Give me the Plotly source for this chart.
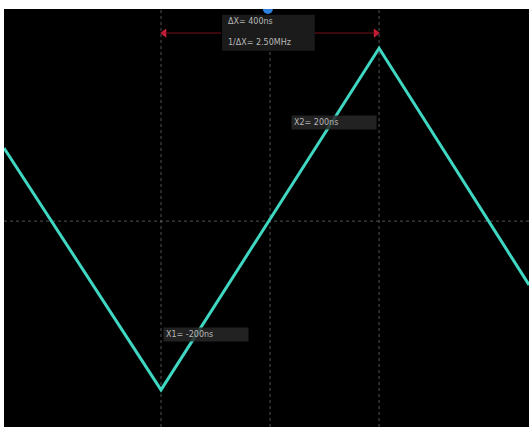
import plotly.graph_objects as go

# Data (time in ns, voltage in div units)
time_ns = [-488, -200, 200, 475]
volts = [1.40, -3.23, 3.31, -1.22]
cursor_times = [-200, 200]
label_dx = "ΔX= 400ns"
label_inv = "1/ΔX= 2.50MHz"
label_x1 = "X1= -200ns"
label_x2 = "X2= 200ns"

X_RANGE = [-488, 475]
Y_RANGE = [-3.94, 4.06]

fig = go.Figure()

# Cursor / centre lines
for t in cursor_times + [0]:
    fig.add_shape(type="line", x0=t, x1=t, y0=Y_RANGE[0], y1=Y_RANGE[1],
                  line=dict(color="rgba(150,150,150,0.55)", width=1, dash="dot"), layer="below")
fig.add_shape(type="line", x0=X_RANGE[0], x1=X_RANGE[1], y0=0, y1=0,
              line=dict(color="rgba(150,150,150,0.55)", width=1, dash="dot"), layer="below")

# Red delta line with arrows
fig.add_shape(type="line", x0=cursor_times[0], x1=-90, y0=3.6, y1=3.6,
              line=dict(color="rgba(150,20,40,0.8)", width=1))
fig.add_shape(type="line", x0=82, x1=cursor_times[1], y0=3.6, y1=3.6,
              line=dict(color="rgba(150,20,40,0.8)", width=1))
fig.add_trace(go.Scatter(x=[cursor_times[0] + 6, cursor_times[1] - 6], y=[3.6, 3.6], mode="markers",
                         marker=dict(symbol=["triangle-left", "triangle-right"], size=8, color="#d0203a"),
                         hoverinfo="skip", showlegend=False))

# Waveform
fig.add_trace(go.Scatter(x=time_ns, y=volts, mode="lines",
                         line=dict(color="#3fd6c2", width=3), showlegend=False))

# Trigger marker at top
fig.add_trace(go.Scatter(x=[-4], y=[Y_RANGE[1]], mode="markers",
                         marker=dict(symbol="circle", size=10, color="#2f7fe0"),
                         showlegend=False, hoverinfo="skip"))

font = dict(color="#b8b8b8", size=8, family="DejaVu Sans")
bg = "rgba(40,40,40,0.85)"
fig.add_shape(type="rect", x0=-88, x1=82, y0=3.26, y1=3.95,
              fillcolor="rgba(30,30,30,0.9)", line=dict(width=0))
fig.add_annotation(x=-80, y=3.82, text=label_dx, showarrow=False, xanchor="left", font=font)
fig.add_annotation(x=-80, y=3.42, text=label_inv, showarrow=False, xanchor="left", font=font)
fig.add_annotation(x=38, y=1.88, text=label_x2, showarrow=False, xanchor="left",
                   width=80, align="left", bgcolor=bg, font=font, borderpad=2)
fig.add_annotation(x=-196, y=-2.16, text=label_x1, showarrow=False, xanchor="left",
                   width=80, align="left", bgcolor=bg, font=font, borderpad=2)

fig.update_layout(
    width=529, height=427,
    margin=dict(l=4, r=0, t=9, b=0),
    paper_bgcolor="white", plot_bgcolor="black",
    xaxis=dict(range=X_RANGE, visible=False, showgrid=False, zeroline=False, fixedrange=True),
    yaxis=dict(range=Y_RANGE, visible=False, showgrid=False, zeroline=False, fixedrange=True),
)
fig.write_html("out.html", post_script="document.body.style.margin='0px';document.body.style.overflow='hidden';",
               config={"displayModeBar": False})
